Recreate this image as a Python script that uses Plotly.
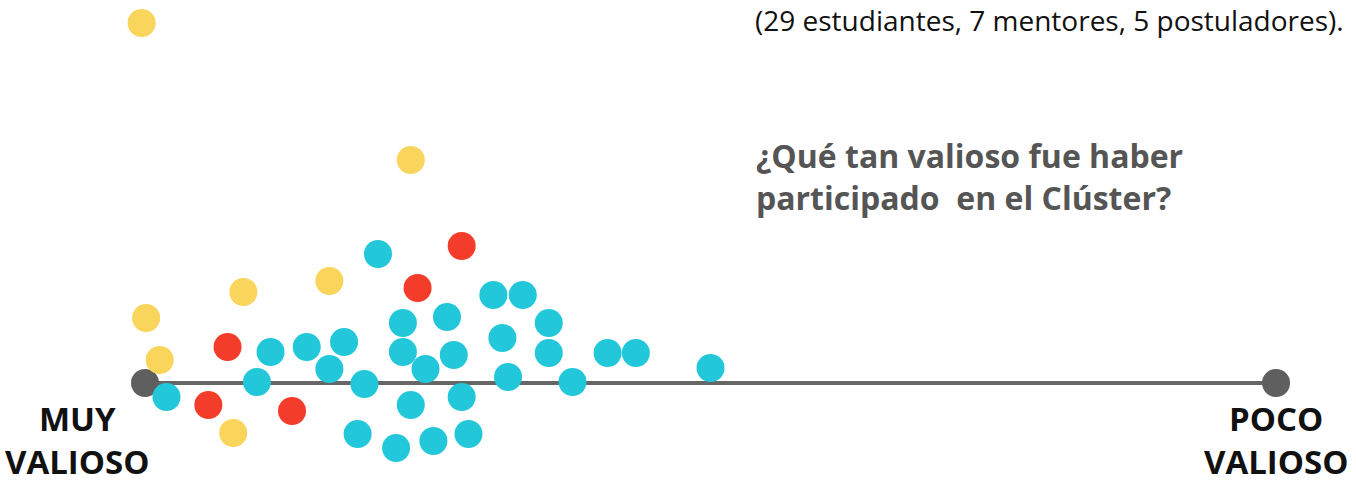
import plotly.graph_objects as go

# Scale position: 0 = "MUY VALIOSO", 100 = "POCO VALIOSO"; y = vertical jitter offset
estudiantes_x = [1.9, 11.1, 14.3, 17.6, 16.3, 9.9, 19.4, 20.6, 18.8, 30.8, 33.4, 22.8, 26.7, 22.8, 24.8,
                 27.3, 31.6, 35.7, 35.7, 32.1, 37.8, 40.9, 43.4, 50.0, 23.5, 28.0, 22.2, 25.5, 28.6]
estudiantes_y = [-1.4, 3.1, 3.6, 4.1, 1.4, 0.1, -0.1, 12.9, -5.1, 8.8, 8.8, 6.0, 6.6, 3.1, 1.4,
                 2.8, 4.5, 6.0, 3.0, 0.6, 0.1, 3.0, 3.0, 1.5, -2.2, -1.4, -6.5, -5.8, -5.1]
mentores_x = [-0.3, 23.5, 8.7, 16.3, 0.1, 1.3, 7.8]
mentores_y = [36.0, 22.3, 9.1, 10.2, 6.5, 2.3, -5.0]
postuladores_x = [28.0, 24.1, 7.3, 5.6, 13.0]
postuladores_y = [13.7, 9.5, 3.6, -2.2, -2.8]
escala_x = [0, 100]
escala_y = [0, 0]
etiqueta_izq = "MUY<br>VALIOSO"
etiqueta_der = "POCO<br>VALIOSO"
subtitulo = "(29 estudiantes, 7 mentores, 5 postuladores)."
pregunta = "¿Qué tan valioso fue haber<br>participado  en el Clúster?"

W, H = 1356, 484
fig = go.Figure()
fig.add_trace(go.Scatter(x=escala_x, y=escala_y, mode="lines+markers",
                         line=dict(color="#666666", width=4),
                         marker=dict(size=28, color="#5f5f5f"), hoverinfo="skip"))
fig.add_trace(go.Scatter(x=estudiantes_x, y=estudiantes_y, mode="markers", name="estudiantes",
                         marker=dict(size=28, color="#22C8DA")))
fig.add_trace(go.Scatter(x=mentores_x, y=mentores_y, mode="markers", name="mentores",
                         marker=dict(size=28, color="#F9D55B")))
fig.add_trace(go.Scatter(x=postuladores_x, y=postuladores_y, mode="markers", name="postuladores",
                         marker=dict(size=28, color="#F33C2A")))

def px(x):
    return x / W

def py(y):
    return 1 - y / H

FONT = "Open Sans"
annotations = [
    dict(text=subtitulo, x=px(1346), y=py(19.5), xanchor="right", yanchor="middle",
         font=dict(family=FONT, size=28, color="#111111")),
    dict(text=pregunta, x=px(754), y=py(176), xanchor="left", yanchor="middle", align="left",
         font=dict(family=FONT, size=32, color="#555555", weight="bold")),
    dict(text=etiqueta_izq, x=px(77), y=py(440), xanchor="center", yanchor="middle", align="center",
         font=dict(family=FONT, size=33, color="#111111", weight="bold")),
    dict(text=etiqueta_der, x=px(1276), y=py(440), xanchor="center", yanchor="middle", align="center",
         font=dict(family=FONT, size=33, color="#111111", weight="bold")),
]
for a in annotations:
    a.update(xref="paper", yref="paper", showarrow=False)

fig.update_layout(
    width=W, height=H, margin=dict(l=0, r=0, t=0, b=0),
    paper_bgcolor="white", plot_bgcolor="white", showlegend=False,
    xaxis=dict(range=[-12.82, 107.07], visible=False, fixedrange=True),
    yaxis=dict(range=[-10.1, 38.3], visible=False, fixedrange=True),
    annotations=annotations,
)
fig.write_html("out.html", config={"displayModeBar": False},
               post_script="document.body.style.margin='0';document.body.style.overflow='hidden';")
